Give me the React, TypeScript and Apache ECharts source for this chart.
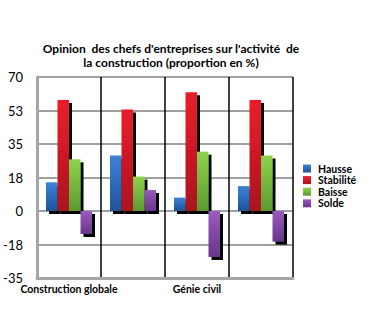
import React, { useEffect, useRef } from "react";
import * as echarts from "echarts";

const categories = ["Construction globale", "Bâtiment", "Génie civil", "Travaux spécialisés"];
const seriesNames = ["Hausse", "Stabilité", "Baisse", "Solde"];
const hausse = [15, 29, 7, 13];
const stabilite = [58, 53, 62, 58];
const baisse = [27, 18, 31, 29];
const solde = [-12, 11, -24, -16];
const titleText = "Opinion  des chefs d'entreprises sur l'activité  de\nla construction (proportion en %)";

const grad = (a: string, b: string) =>
  new echarts.graphic.LinearGradient(0, 0, 0, 1, [
    { offset: 0, color: a },
    { offset: 1, color: b },
  ]);

export default function App() {
  const ref = useRef<HTMLDivElement>(null);
  useEffect(() => {
    if (!ref.current) return;
    document.body.style.margin = "0";
    const chart = echarts.init(ref.current, null, { renderer: "svg" });
    const colors = [
      ["#3B82D8", "#1F5399"],
      ["#EC1C2A", "#A8161F"],
      ["#8DD34E", "#5B9B2E"],
      ["#9A5BBE", "#66368A"],
    ];
    const data = [hausse, stabilite, baisse, solde];
    chart.setOption({
      animation: false,
      color: ["#2F6FC4", "#DC1C28", "#7DC242", "#7E46A6"],
      title: {
        text: titleText,
        left: 166,
        top: 36,
        textAlign: "center",
        textStyle: { fontFamily: "Lato", fontWeight: "bold", fontSize: 12, lineHeight: 14, color: "#000" },
      },
      legend: {
        orient: "vertical",
        left: 298,
        top: 158,
        itemWidth: 8,
        itemHeight: 8,
        itemGap: 0.6,
        icon: "rect",
        data: seriesNames,
        textStyle: {
          fontFamily: "Lato",
          fontWeight: "bold",
          fontSize: 10.5,
          lineHeight: 8,
          color: "#000",
          padding: [0, 0, 0, 2],
        },
      },
      grid: { left: 37, right: 80, top: 77, bottom: 42, containLabel: false },
      xAxis: {
        type: "category",
        data: categories,
        position: "bottom",
        axisLine: { show: true, onZero: false, lineStyle: { color: "#A6A6A6", width: 3 } },
        axisTick: { show: false },
        splitLine: { show: true, interval: 0, lineStyle: { color: "#000", width: 1.5 } },
        axisLabel: {
          interval: 1,
          margin: 5,
          fontFamily: "Lato",
          fontWeight: "bold",
          fontSize: 10.5,
          color: "#000",
        },
      },
      yAxis: {
        type: "value",
        min: -35,
        max: 70,
        interval: 17.5,
        axisLine: { show: true, lineStyle: { color: "#A6A6A6", width: 3 } },
        axisTick: { show: false },
        splitLine: { show: true, lineStyle: { color: "#A0A0A0", width: 2 } },
        axisLabel: {
          margin: 14,
          fontFamily: "Lato",
          fontSize: 13,
          color: "#000",
          formatter: (v: number) => String(Math.sign(v) * Math.round(Math.abs(v))),
        },
      },
      series: seriesNames.map((name, i) => ({
        name,
        type: "bar",
        data: data[i],
        barWidth: 11.5,
        barGap: "0%",
        itemStyle: {
          color: grad(colors[i][0], colors[i][1]),
          shadowColor: "#000",
          shadowOffsetX: 3,
          shadowOffsetY: 3,
          shadowBlur: 0,
        },
      })),
    });
    return () => chart.dispose();
  }, []);
  return <div ref={ref} style={{ width: 373, height: 320 }} />;
}
